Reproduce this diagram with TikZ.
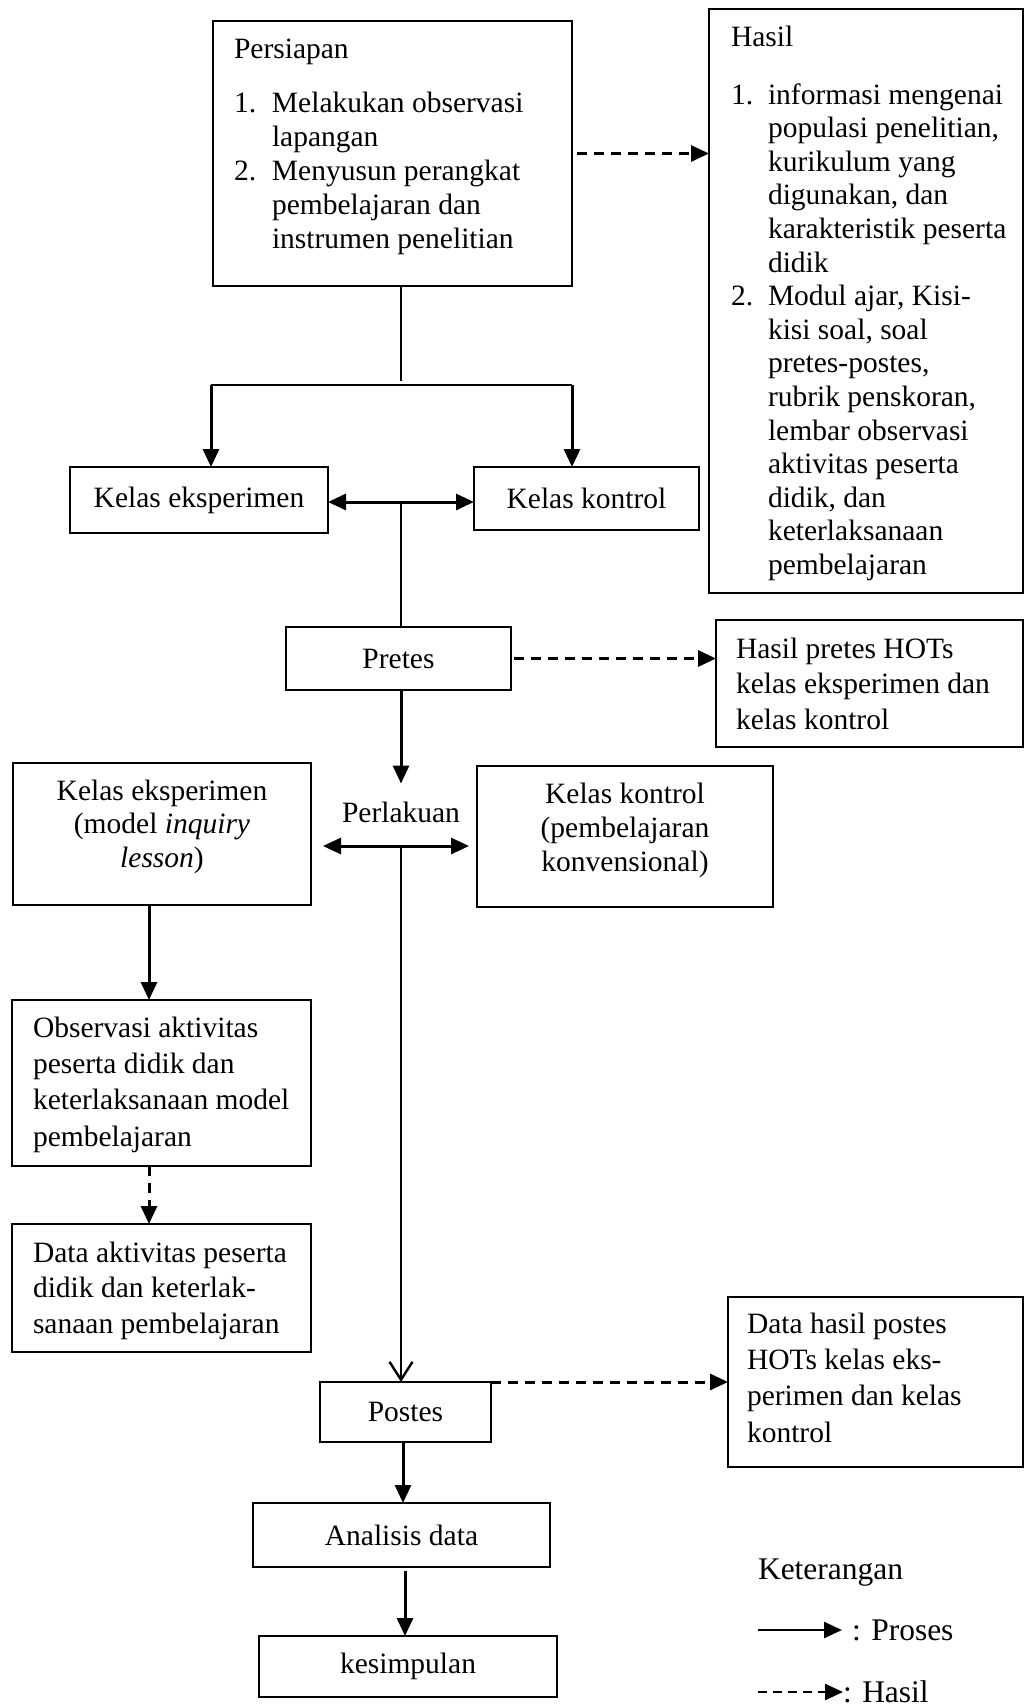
\documentclass[tikz,border=0pt]{standalone}
\usepackage{fontspec}
\setmainfont{Liberation Serif}
\usetikzlibrary{arrows.meta}
\begin{document}
\begin{tikzpicture}[x=1pt,y=-1pt,
  every node/.style={inner sep=0pt, outer sep=0pt, font=\fontsize{29.5}{34}\selectfont},
  box/.style={draw, line width=2pt, inner sep=0pt},
  txt/.style={align=left, anchor=base west},
  ctxt/.style={align=center, anchor=base},
  legend/.style={font=\fontsize{31.5}{36}\selectfont},
  proc/.style={line width=3pt, -{Triangle[length=18pt,width=16pt]}},
  dbl/.style={line width=3pt, {Triangle[length=18pt,width=16pt]}-{Triangle[length=18pt,width=16pt]}},
  res/.style={line width=3pt, dash pattern=on 10pt off 7pt, -{Triangle[length=18pt,width=16pt]}},
  thinline/.style={line width=1.5pt},
  branch/.style={line width=2.2pt},
  longarr/.style={line width=2.4pt, -{Straight Barb[length=18pt,width=23pt]}},
]
\useasboundingbox (0,0) rectangle (1025,1708);

% boxes
\node[box, minimum width=359pt, minimum height=265pt] (persiapan) at (392.5,153.5) {};
\node[box, minimum width=314pt, minimum height=584pt] (hasil) at (866,301) {};
\node[box, minimum width=258pt, minimum height=66pt] (ke) at (199,500) {Kelas eksperimen};
\node[box, minimum width=225pt, minimum height=63pt] (kk) at (586.5,498.5) {Kelas kontrol};
\node[box, minimum width=225pt, minimum height=63pt] (pretes) at (398.5,658.5) {Pretes};
\node[box, minimum width=307pt, minimum height=127pt] (hasilpre) at (869.5,683.5) {};
\node[box, minimum width=298pt, minimum height=142pt] (ke2) at (162,834) {};
\node[box, minimum width=296pt, minimum height=141pt] (kk2) at (625,836.5) {};
\node[box, minimum width=299pt, minimum height=166pt] (obs) at (161.5,1083) {};
\node[box, minimum width=299pt, minimum height=128pt] (data) at (161.5,1288) {};
\node[box, minimum width=171pt, minimum height=60pt] (postes) at (405.5,1412) {Postes};
\node[box, minimum width=295pt, minimum height=170pt] (datahasil) at (875.5,1382) {};
\node[box, minimum width=297pt, minimum height=64pt] (analisis) at (401.5,1535) {Analisis data};
\node[box, minimum width=298pt, minimum height=61pt] (kesimpulan) at (408,1666.5) {kesimpulan};

% texts (anchored at the baseline of their last line)
\node[txt] (persiapantxt) at (234,248) {Persiapan\\[20pt]
\makebox[38pt][l]{1.}Melakukan observasi\\
\hspace*{38pt}lapangan\\
\makebox[38pt][l]{2.}Menyusun perangkat\\
\hspace*{38pt}pembelajaran dan\\
\hspace*{38pt}instrumen penelitian};

\node[txt, font=\fontsize{29.5}{33.6}\selectfont] (hasiltxt) at (731,574.5) {Hasil\\[24.4pt]
\makebox[37pt][l]{1.}informasi mengenai\\
\hspace*{37pt}populasi penelitian,\\
\hspace*{37pt}kurikulum yang\\
\hspace*{37pt}digunakan, dan\\
\hspace*{37pt}karakteristik peserta\\
\hspace*{37pt}didik\\
\makebox[37pt][l]{2.}Modul ajar, Kisi-\\
\hspace*{37pt}kisi soal, soal\\
\hspace*{37pt}pretes-postes,\\
\hspace*{37pt}rubrik penskoran,\\
\hspace*{37pt}lembar observasi\\
\hspace*{37pt}aktivitas peserta\\
\hspace*{37pt}didik, dan\\
\hspace*{37pt}keterlaksanaan\\
\hspace*{37pt}pembelajaran};

\node[txt, font=\fontsize{29.5}{35.5}\selectfont] (hasilpretxt) at (736,729) {Hasil pretes HOTs\\kelas eksperimen dan\\kelas kontrol};

\node[ctxt, font=\fontsize{29.5}{33.5}\selectfont] (ke2txt) at (162,867) {Kelas eksperimen\\(model \textit{inquiry}\\\textit{lesson})};
\node[ctxt, font=\fontsize{29.5}{34}\selectfont] (kk2txt) at (625,871) {Kelas kontrol\\(pembelajaran\\konvensional)};

\node[txt, font=\fontsize{29.5}{36.3}\selectfont] (obstxt) at (33,1146) {Observasi aktivitas\\peserta didik dan\\keterlaksanaan model\\pembelajaran};
\node[txt, font=\fontsize{29.5}{35.5}\selectfont] (datatxt) at (33,1333) {Data aktivitas peserta\\didik dan keterlak-\\sanaan pembelajaran};
\node[txt, font=\fontsize{29.5}{36.3}\selectfont] (datahasiltxt) at (747,1442) {Data hasil postes\\HOTs kelas eks-\\perimen dan kelas\\kontrol};

\node[ctxt] (perlakuan) at (401,822) {Perlakuan};

% connectors
\coordinate (j1) at (401,381);
\draw[thinline] (persiapan.south -| j1) -- (j1);
\coordinate (bl) at (211,385);
\coordinate (br) at (572,385);
\draw[branch] (bl) -- (br);
\draw[proc] (bl) -- (bl |- ke.north);
\draw[proc] (br) -- (br |- kk.north);

\draw[res, shorten <=5pt] (persiapan.east) -- (persiapan.east -| hasil.west);

\coordinate (m1) at (401,502);
\draw[dbl] (m1 -| ke.east) -- (m1 -| kk.west);
\draw[thinline] (m1) -- (m1 |- pretes.north);

\draw[res, shorten <=3pt] (pretes.east) -- (pretes.east -| hasilpre.west);
\draw[proc, shorten >=18pt] (pretes.south -| perlakuan.north) -- (perlakuan.north);

\coordinate (m2) at (401,846);
\draw[dbl, shorten <=12pt, shorten >=8pt] (m2 -| ke2.east) -- (m2 -| kk2.west);
\draw[longarr] (m2) -- (m2 |- postes.north);

\coordinate (c3) at (149,0);
\draw[proc] (ke2.south -| c3) -- (obs.north -| c3);
\draw[res] (obs.south -| c3) -- (data.north -| c3);

\draw[res] (postes.north east) -- (postes.north east -| datahasil.west);

\coordinate (c4) at (403,0);
\draw[proc] (postes.south -| c4) -- (analisis.north -| c4);
\coordinate (c5) at (405,0);
\draw[proc, shorten <=4pt] (analisis.south -| c5) -- (kesimpulan.north -| c5);

% legend
\node[legend, anchor=base west] (ket) at (758,1579) {Keterangan};
\node[legend, anchor=base west] (proses) at (852,1640) {: Proses};
\coordinate (lp) at (758,1630);
\draw[proc, line width=2.6pt, shorten >=10pt] (lp) -- (lp -| proses.west);
\node[legend, anchor=base west] (hsl) at (843,1702) {: Hasil};
\coordinate (lh) at (758,1692);
\draw[res, line width=2.6pt, dash pattern=on 9pt off 6pt] (lh) -- (lh -| hsl.west);
\end{tikzpicture}
\end{document}
